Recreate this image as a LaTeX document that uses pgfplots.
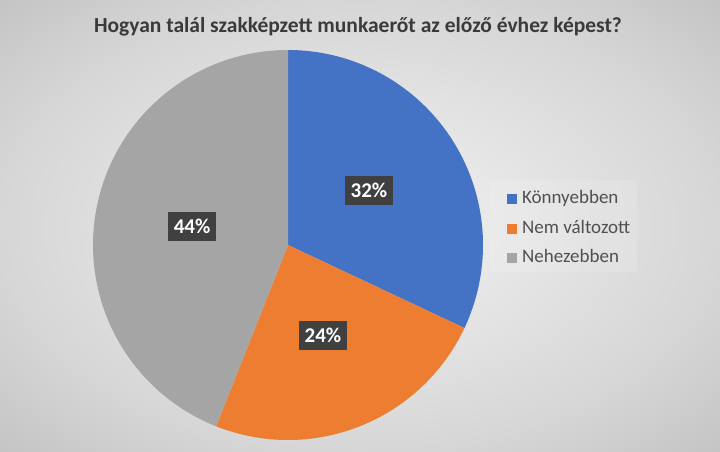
\documentclass[border=0pt]{standalone}
\usepackage{pgfplots}
\pgfplotsset{compat=1.18}
\usepackage{pgfplotstable}
\usepackage{fontspec}
\setmainfont{Carlito}
\definecolor{pieblue}{HTML}{4472C4}
\definecolor{pieorange}{HTML}{ED7D31}
\definecolor{piegray}{HTML}{A5A5A5}
\definecolor{titlegray}{HTML}{3A3A3A}
\definecolor{leggray}{HTML}{505050}
\definecolor{lblbox}{HTML}{404040}
\definecolor{bgA}{HTML}{F3F3F3}
\definecolor{bgB}{HTML}{D6D6D6}
\definecolor{bgC}{HTML}{C4C4C4}
\pgfdeclareradialshading{bgshade}{\pgfpoint{0bp}{0bp}}{color(0bp)=(bgA); color(25bp)=(bgB); color(35.5bp)=(bgC); color(50bp)=(bgC)}

\pgfplotstableread{
label value
Konny 32
Nem 24
Neh 44
}\piedata

\pgfplotstablegetelem{0}{value}\of\piedata \let\va\pgfplotsretval
\pgfplotstablegetelem{1}{value}\of\piedata \let\vb\pgfplotsretval
\pgfplotstablegetelem{2}{value}\of\piedata \let\vc\pgfplotsretval
\pgfmathsetmacro\aA{90}
\pgfmathsetmacro\aB{90-3.6*\va}
\pgfmathsetmacro\aC{\aB-3.6*\vb}
\pgfmathsetmacro\aD{\aC-3.6*\vc}

\begin{document}
\begin{tikzpicture}
\useasboundingbox (0,0) rectangle (720pt,452pt);
\shade[shading=bgshade] (0,0) rectangle (720pt,452pt);
\fill[white, opacity=0.12] (490pt,180pt) rectangle (637pt,272pt);
\begin{axis}[
  at={(0,0)}, anchor=south west,
  scale only axis, width=720pt, height=452pt,
  xmin=-1.47692, xmax=2.21538, ymin=-1.06154, ymax=1.25641,
  hide axis, clip=false,
  legend style={at={(rel axis cs:0.704,0.494)}, anchor=west,
    draw=none, fill=none,
    font=\fontsize{19}{20}\selectfont, text=leggray,
    inner xsep=0pt, inner ysep=0pt,
    nodes={inner sep=0pt, text height=13pt, text depth=4pt},
    column sep=5pt,
    row sep=12.5pt},
  legend cell align=left,
  legend image code/.code={\fill[#1] (0pt,-5pt) rectangle (10pt,5pt);},
]
\addplot[fill=pieblue, draw=none, domain=\aB:\aA, samples=120, variable=\t]
  ({cos(\t)},{sin(\t)}) -- (0,0) -- cycle;
\addlegendentry{Könnyebben}
\addplot[fill=pieorange, draw=none, domain=\aC:\aB, samples=120, variable=\t]
  ({cos(\t)},{sin(\t)}) -- (0,0) -- cycle;
\addlegendentry{Nem változott}
\addplot[fill=piegray, draw=none, domain=\aD:\aC, samples=160, variable=\t]
  ({cos(\t)},{sin(\t)}) -- (0,0) -- cycle;
\addlegendentry{Nehezebben}

\tikzset{lbl/.style={fill=lblbox, text=white, font=\fontsize{21}{22}\selectfont\bfseries,
  inner xsep=5.5pt, inner ysep=0pt, minimum height=29pt, text height=14pt, text depth=0pt}}
\node[lbl] at (axis cs:0.415,0.277) {32\%};
\node[lbl] at (axis cs:0.179,-0.462) {24\%};
\node[lbl] at (axis cs:-0.492,0.097) {44\%};
\end{axis}
\node[font=\fontsize{21.5}{24}\selectfont\bfseries, text=titlegray] at (358pt,425pt)
  {Hogyan talál szakképzett munkaerőt az előző évhez képest?};
\end{tikzpicture}
\end{document}
